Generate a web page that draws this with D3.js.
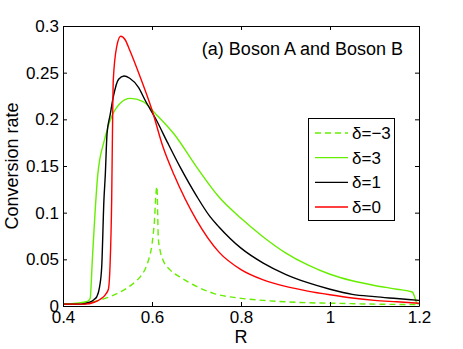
<!DOCTYPE html>
<html>
<head>
<meta charset="utf-8">
<script src="https://cdn.jsdelivr.net/npm/d3@7"></script>
<style>
  body { margin: 0; background: #fff; }
  text { font-family: "Liberation Sans", Arial, sans-serif; }
</style>
</head>
<body>
<svg id="chart"></svg>
<script>
// values
const xTicks = [0.4, 0.6, 0.8, 1, 1.2];
const yTicks = [0, 0.05, 0.1, 0.15, 0.2, 0.25, 0.3];

const rDm3 = [0.40,0.45,0.48,0.50,0.52,0.543,0.56,0.573,0.585,0.592,0.60,0.603,0.606,0.608,0.611,0.613,0.614,0.618,0.625,0.64,0.663,0.70,0.738,0.80,0.85,0.90,0.95,1.0,1.1,1.2];
const vDm3 = [0.002,0.003,0.006,0.009,0.013,0.019,0.025,0.031,0.04,0.049,0.066,0.078,0.095,0.114,0.128,0.095,0.074,0.06,0.049,0.039,0.031,0.021,0.0136,0.0082,0.006,0.0045,0.0035,0.003,0.002,0.0015];

const rD3 = [0.40,0.43,0.455,0.461,0.466,0.472,0.478,0.483,0.491,0.506,0.528,0.551,0.58,0.61,0.65,0.70,0.75,0.80,0.85,0.90,0.95,1.0,1.05,1.1,1.15,1.185,1.19,1.195,1.2];
const vD3 = [0.002,0.003,0.005,0.008,0.05,0.10,0.14,0.158,0.174,0.199,0.217,0.2225,0.219,0.205,0.184,0.149,0.117,0.094,0.074,0.057,0.044,0.034,0.027,0.022,0.018,0.015,0.010,0.003,0.002];

const rD1 = [0.40,0.44,0.46,0.47,0.476,0.482,0.487,0.492,0.495,0.499,0.506,0.513,0.525,0.537,0.55,0.57,0.584,0.61,0.635,0.663,0.70,0.73,0.75,0.80,0.85,0.90,0.95,1.0,1.05,1.1,1.15,1.2];
const vD1 = [0.002,0.002,0.004,0.007,0.010,0.02,0.042,0.114,0.14,0.185,0.205,0.224,0.243,0.2465,0.244,0.234,0.221,0.199,0.175,0.149,0.118,0.096,0.085,0.062,0.046,0.034,0.025,0.018,0.0125,0.010,0.008,0.006];

const rD0 = [0.40,0.45,0.47,0.483,0.495,0.502,0.5056,0.5094,0.5117,0.513,0.5207,0.5297,0.54,0.55,0.573,0.60,0.625,0.65,0.70,0.75,0.80,0.85,0.90,0.95,1.0,1.05,1.1,1.15,1.2];
const vD0 = [0.002,0.002,0.004,0.007,0.012,0.018,0.042,0.114,0.207,0.242,0.278,0.289,0.285,0.274,0.246,0.21,0.17,0.14,0.092,0.058,0.039,0.028,0.021,0.016,0.012,0.0085,0.006,0.0045,0.003];

const seriesNames = ["δ=−3", "δ=3", "δ=1", "δ=0"];
const seriesColors = ["#66ee00", "#66ee00", "#000000", "#ff0000"];
const seriesDash = ["6,4", null, null, null];
const seriesR = [rDm3, rD3, rD1, rD0];
const seriesV = [vDm3, vD3, vD1, vD0];

const width = 463, height = 349;
const margin = { left: 63, right: 44, top: 26, bottom: 43 };
const tickFont = 17, labelFont = 18;

const svg = d3.select("#chart").attr("width", width).attr("height", height);

const x = d3.scaleLinear().domain([0.4, 1.2]).range([margin.left, width - margin.right]);
const y = d3.scaleLinear().domain([0, 0.3]).range([height - margin.bottom, margin.top]);

svg.append("defs").append("clipPath").attr("id", "clip")
  .append("rect")
  .attr("x", margin.left).attr("y", margin.top)
  .attr("width", x(1.2) - x(0.4)).attr("height", y(0) - y(0.3));

// curves
const line = d3.line()
  .x(d => x(d[0]))
  .y(d => y(d[1]))
  .curve(d3.curveMonotoneX);

const plot = svg.append("g").attr("clip-path", "url(#clip)");
seriesR.forEach((rs, i) => {
  const pts = rs.map((r, j) => [r, seriesV[i][j]]);
  plot.append("path")
    .datum(pts)
    .attr("d", line)
    .attr("fill", "none")
    .attr("stroke", seriesColors[i])
    .attr("stroke-width", 1.4)
    .attr("stroke-dasharray", seriesDash[i]);
});

// box axes, ticks inward on all sides
const tickLen = 4;
const axes = svg.append("g");
axes.append("g").attr("transform", `translate(0,${y(0)})`)
  .call(d3.axisBottom(x).tickValues(xTicks).tickSizeInner(-tickLen).tickSizeOuter(0).tickPadding(5).tickFormat(d3.format("")));
axes.append("g").attr("transform", `translate(0,${y(0.3)})`)
  .call(d3.axisTop(x).tickValues(xTicks).tickSizeInner(-tickLen).tickSizeOuter(0).tickFormat(""));
axes.append("g").attr("transform", `translate(${x(0.4)},0)`)
  .call(d3.axisLeft(y).tickValues(yTicks).tickSizeInner(-tickLen).tickSizeOuter(0).tickPadding(4).tickFormat(d3.format("")));
axes.append("g").attr("transform", `translate(${x(1.2)},0)`)
  .call(d3.axisRight(y).tickValues(yTicks).tickSizeInner(-tickLen).tickSizeOuter(0).tickFormat(""));

axes.selectAll(".domain").attr("stroke", "#000");
axes.selectAll(".tick line").attr("stroke", "#000");
axes.selectAll(".tick text")
  .attr("fill", "#000")
  .style("font-size", tickFont + "px")
  .style("font-family", "'Liberation Sans', Arial, sans-serif");

// axis labels
svg.append("text")
  .attr("x", (x(0.4) + x(1.2)) / 2)
  .attr("y", 343)
  .attr("text-anchor", "middle")
  .style("font-size", labelFont + "px")
  .text("R");

svg.append("text")
  .attr("transform", `translate(18,${(y(0) + y(0.3)) / 2}) rotate(-90)`)
  .attr("text-anchor", "middle")
  .style("font-size", labelFont + "px")
  .text("Conversion rate");

// panel title
svg.append("text")
  .attr("x", 403)
  .attr("y", 55)
  .attr("text-anchor", "end")
  .style("font-size", labelFont + "px")
  .text("(a) Boson A and Boson B");

// legend
const leg = svg.append("g");
leg.append("rect")
  .attr("x", 308.5).attr("y", 118.5)
  .attr("width", 86).attr("height", 102)
  .attr("fill", "#fff").attr("stroke", "#000").attr("stroke-width", 1);

const legY = d3.scalePoint().domain(seriesNames).range([133, 207]);
seriesNames.forEach((name, i) => {
  const yy = legY(name);
  leg.append("line")
    .attr("x1", 315).attr("x2", 348)
    .attr("y1", yy).attr("y2", yy)
    .attr("stroke", seriesColors[i])
    .attr("stroke-width", 1.4)
    .attr("stroke-dasharray", seriesDash[i]);
  leg.append("text")
    .attr("x", 352)
    .attr("y", yy)
    .attr("dy", "0.35em")
    .style("font-size", tickFont + "px")
    .text(name);
});
</script>
</body>
</html>
